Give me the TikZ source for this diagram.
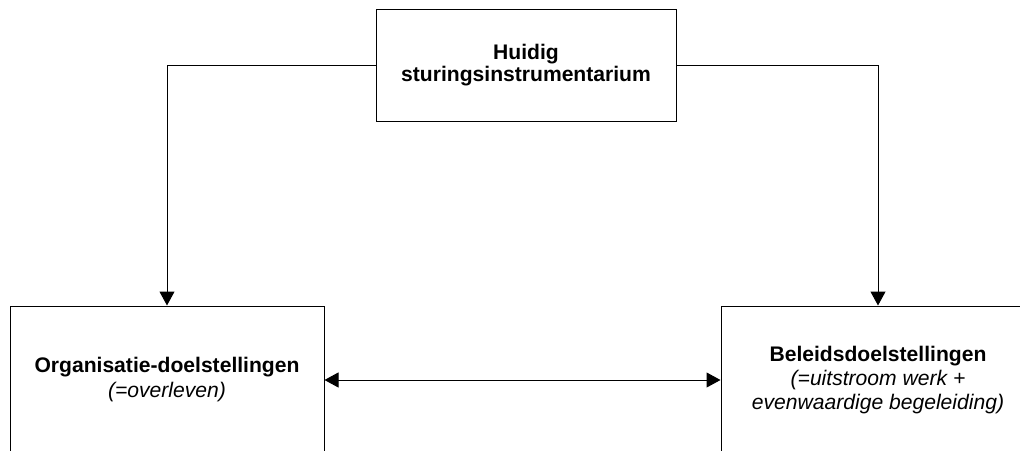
\documentclass[tikz,border=0pt]{standalone}
\usepackage{fontspec}
\setmainfont{Liberation Sans}
\usetikzlibrary{arrows.meta}
\begin{document}
\begin{tikzpicture}[x=1pt,y=-1pt,
  box/.style={draw=black,line width=1pt,fill=white,rectangle,inner sep=0pt,align=center,
    font=\fontsize{21.1}{24}\selectfont},
  conn/.style={line width=1pt,-{Triangle[width=15pt,length=14pt]}},
  biconn/.style={line width=1pt,{Triangle[width=15pt,length=14pt]}-{Triangle[width=15pt,length=14pt]}}]
\useasboundingbox (0,0) rectangle (1020,450);
\clip (0,0) rectangle (1020,450);
\node[box,minimum width=300pt,minimum height=112pt] (top) at (526,65)
  {\textbf{Huidig}\\[-2pt]\textbf{sturingsinstrumentarium}};
\node[box,minimum width=314pt,minimum height=148pt] (left) at (167,380)
  {\textbf{Organisatie-doelstellingen}\\[1pt]\textit{(=overleven)}};
\node[box,minimum width=314pt,minimum height=148pt] (right) at (878,380)
  {\textbf{Beleidsdoelstellingen}\\[0pt]\textit{(=uitstroom werk +}\\[0pt]\textit{evenwaardige begeleiding)}};
\draw[conn] (top.west) -| (left.north);
\draw[conn] (top.east) -| (right.north);
\draw[biconn] (left.east) -- (right.west);
\end{tikzpicture}
\end{document}
